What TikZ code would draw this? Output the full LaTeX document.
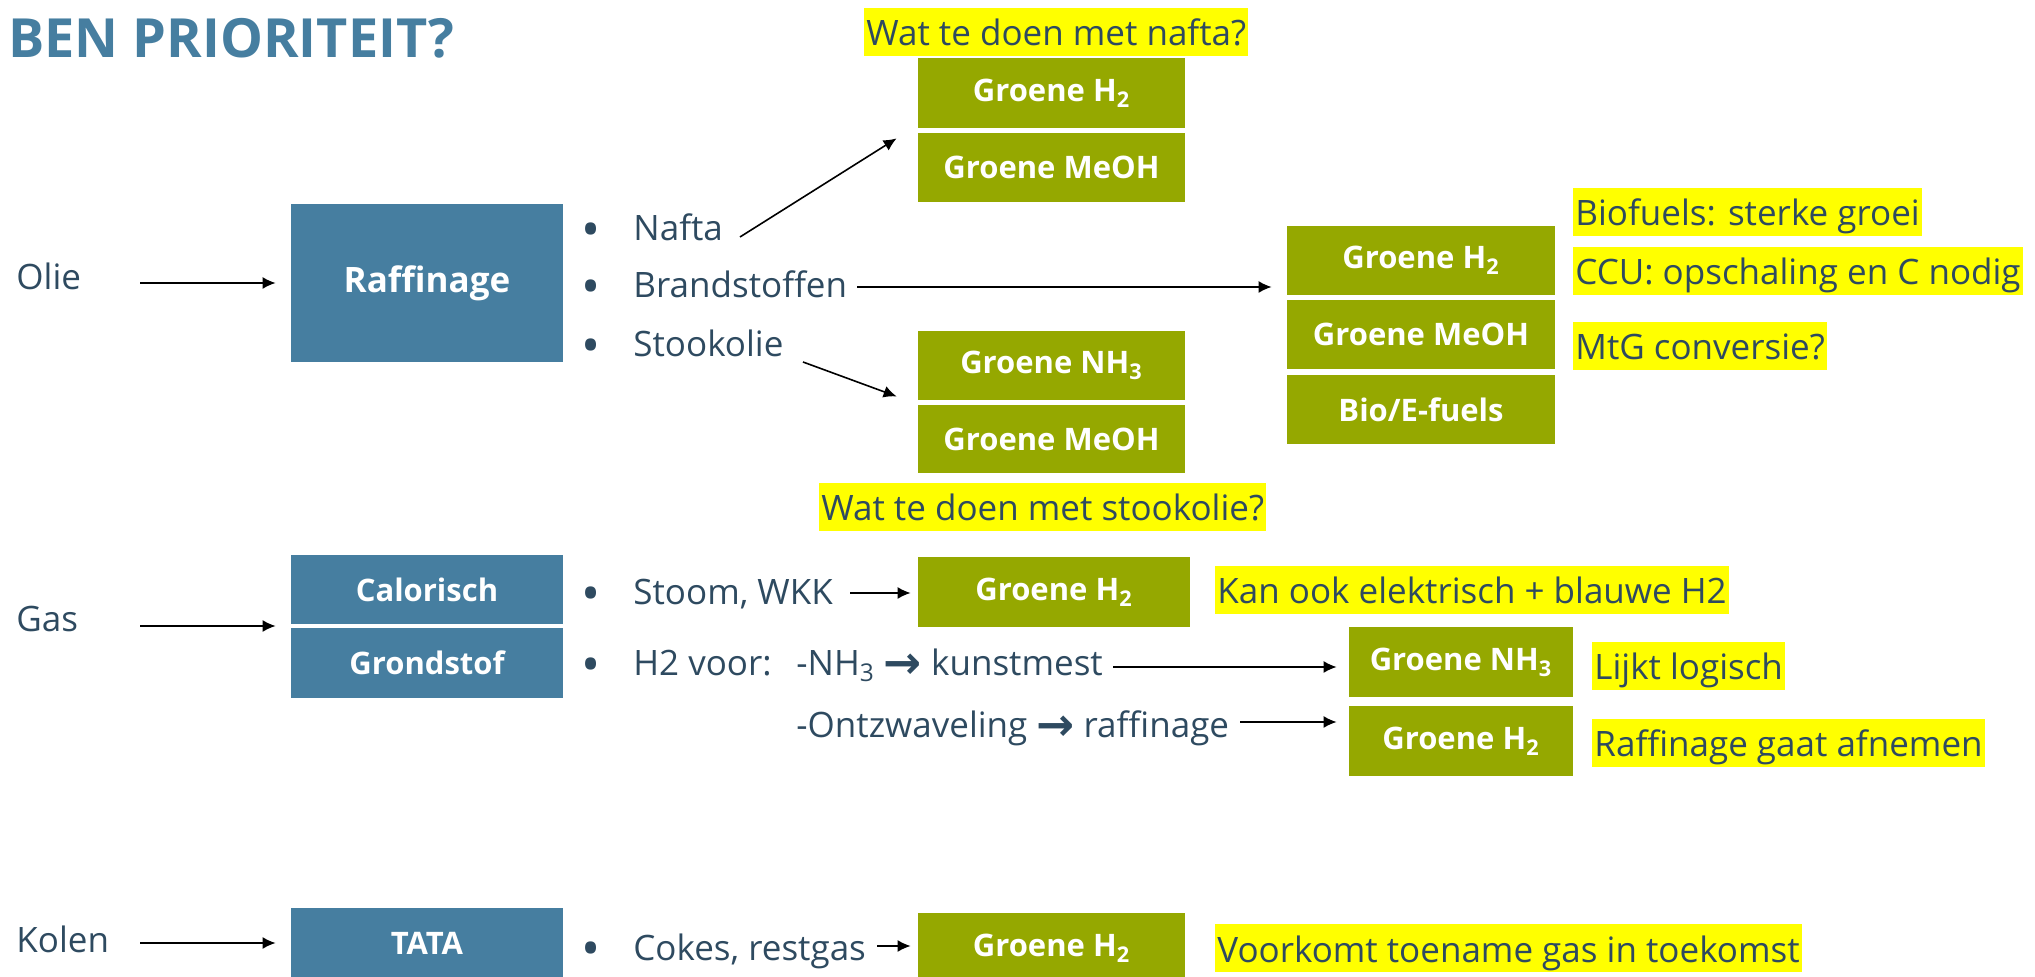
\documentclass[tikz,border=0pt]{standalone}
\usepackage{fontspec}
\usepackage{graphicx}
\setmainfont{Open Sans}
\newfontfamily\pijlfont{DejaVu Sans}
\usetikzlibrary{arrows.meta}

\definecolor{slide}{RGB}{70,126,160}
\definecolor{loof}{RGB}{149,168,0}
\definecolor{tekst}{RGB}{46,74,96}
\definecolor{markeer}{RGB}{255,255,0}

\newcommand\bul{\makebox[26pt][l]{\raisebox{-0.35ex}{\scalebox{1.45}{•}}}}
\newcommand\pijl{\raisebox{-0.15ex}{\scalebox{1.3}{\pijlfont\bfseries →}}}

\begin{document}
\begin{tikzpicture}[x = 0.5pt, y = -0.5pt, > = {Latex[length = 6.5pt, width = 6pt]},
	txt/.style = {anchor = base west, inner sep = 0, text = tekst, font = \fontsize{17.5}{21}\selectfont},
	geel/.style = {txt, fill = markeer, inner xsep = 1pt, text height = 19pt, text depth = 5pt},
	blok/.style = {fill = slide, text = white, inner sep = 0, minimum width = 136pt, minimum height = 35pt, font = \fontsize{15.5}{18}\selectfont\bfseries},
	groenblok/.style = {blok, fill = loof, minimum width = 133.5pt},
	stap/.style = {->, line width = 0.8pt}]

	% Frame and title
	
	\useasboundingbox (0, 0) rectangle (2035, 977);
	\node [anchor = base west, inner sep = 0, text = slide, font = \fontsize{27}{31}\selectfont\bfseries] (titel) at (8, 58) {BEN PRIORITEIT?};
	
	% Sources
	
	\node [txt] (olie) at (16, 290) {Olie};
	\node [txt] (gas) at (16, 632) {Gas};
	\node [txt] (kolen) at (16, 952) {Kolen};
	
	% Blue blocks
	
	\node [blok, minimum height = 79pt, font = \fontsize{17.5}{21}\selectfont\bfseries] (raff) at (427, 283) {Raffinage};
	\node [blok, minimum height = 34.5pt] (calor) at (427, 589.5) {Calorisch};
	\node [blok] (grond) at (427, 663) {Grondstof};
	\node [blok] (tata) at (427, 943) {TATA};
	
	% Products
	
	\node [txt] (nafta) at (581, 241) {\bul Nafta};
	\node [txt] (brand) at (581, 298) {\bul Brandstoffen};
	\node [txt] (stook) at (581, 357) {\bul Stookolie};
	
	\node [txt] (stoom) at (581, 605) {\bul Stoom, WKK};
	\node [txt] (voor) at (581, 676) {\bul\makebox[81.5pt][l]{H2 voor:}-NH\textsubscript{3} \pijl{} kunstmest};
	\node [txt] (ontz) at (796, 738) {-Ontzwaveling \pijl{} raffinage};
	
	\node [txt] (cokes) at (581, 960) {\bul Cokes, restgas};
	
	% Green blocks
	
	\node [groenblok, minimum height = 35pt] (n1) at (1051.5, 93) {Groene H\textsubscript{2}};
	\node [groenblok, minimum height = 34.5pt] (n2) at (1051.5, 167.5) {Groene MeOH};
	\node [groenblok, minimum height = 34.5pt] (s1) at (1051.5, 365.5) {Groene NH\textsubscript{3}};
	\node [groenblok, minimum height = 34pt] (s2) at (1051.5, 439) {Groene MeOH};
	
	\node [groenblok, minimum width = 134pt, minimum height = 34.5pt] (r1) at (1421, 260.5) {Groene H\textsubscript{2}};
	\node [groenblok, minimum width = 134pt, minimum height = 34.5pt] (r2) at (1421, 334.5) {Groene MeOH};
	\node [groenblok, minimum width = 134pt, minimum height = 34.5pt] (r3) at (1421, 409.5) {Bio/E-fuels};
	
	\node [groenblok, minimum width = 136pt] (g5) at (1054, 592) {Groene H\textsubscript{2}};
	\node [groenblok, minimum width = 112pt] (g6) at (1461, 662) {Groene NH\textsubscript{3}};
	\node [groenblok, minimum width = 112pt] (g7) at (1461, 741) {Groene H\textsubscript{2}};
	\node [groenblok] (g8) at (1051.5, 948) {Groene H\textsubscript{2}};
	
	% Highlighted remarks
	
	\node [geel] (vnafta) at (864, 46) {Wat te doen met nafta?};
	\node [geel] (vstook) at (819, 521) {Wat te doen met stookolie?};
	\node [geel] (vbio) at (1573, 226) {Biofuels: sterke groei};
	\node [geel] (vccu) at (1573, 285) {CCU: opschaling en C nodig};
	\node [geel] (vmtg) at (1573, 360) {MtG conversie?};
	\node [geel] (vkan) at (1215, 604) {Kan ook elektrisch + blauwe H2};
	\node [geel] (vlijkt) at (1592, 680) {Lijkt logisch};
	\node [geel] (vraff) at (1592, 757) {Raffinage gaat afnemen};
	\node [geel] (vvoork) at (1215, 962) {Voorkomt toename gas in toekomst};
	
	% Arrows
	
	\coordinate (olieuit) at (140, 283);
	\coordinate (gasuit) at (140, 626);
	\coordinate (koleuit) at (140, 943);
	\coordinate (naftauit) at (740, 237);
	\coordinate (branduit) at (857, 287);
	\coordinate (stookuit) at (803, 362);
	\coordinate (stoomuit) at (850, 593);
	\coordinate (vooruit) at (1113, 667);
	\coordinate (ontzuit) at (1240, 722);
	\coordinate (cokesuit) at (877, 946);
	
	\begin{scope}[stap]
	
		\draw [shorten > = 7.5pt] (olieuit) -- (olieuit -| raff.west);
		\draw [shorten > = 7.5pt] (gasuit) -- (gasuit -| calor.west);
		\draw [shorten > = 7.5pt] (koleuit) -- (koleuit -| tata.west);
		
		\draw (naftauit) -- ([shift = {(-10.5pt, -5pt)}] n1.south west);
		\draw [shorten > = 7.5pt] (branduit) -- (branduit -| r1.west);
		\draw (stookuit) -- ([shift = {(-10.5pt, 2pt)}] s1.south west);
		
		\draw [shorten > = 3.5pt] (stoomuit) -- (stoomuit -| g5.west);
		\draw [shorten > = 6pt] (vooruit) -- (vooruit -| g6.west);
		\draw [shorten > = 6pt] (ontzuit) -- (ontzuit -| g7.west);
		\draw [shorten > = 3.5pt] (cokesuit) -- (cokesuit -| g8.west);
		
	\end{scope}

\end{tikzpicture}
\end{document}
